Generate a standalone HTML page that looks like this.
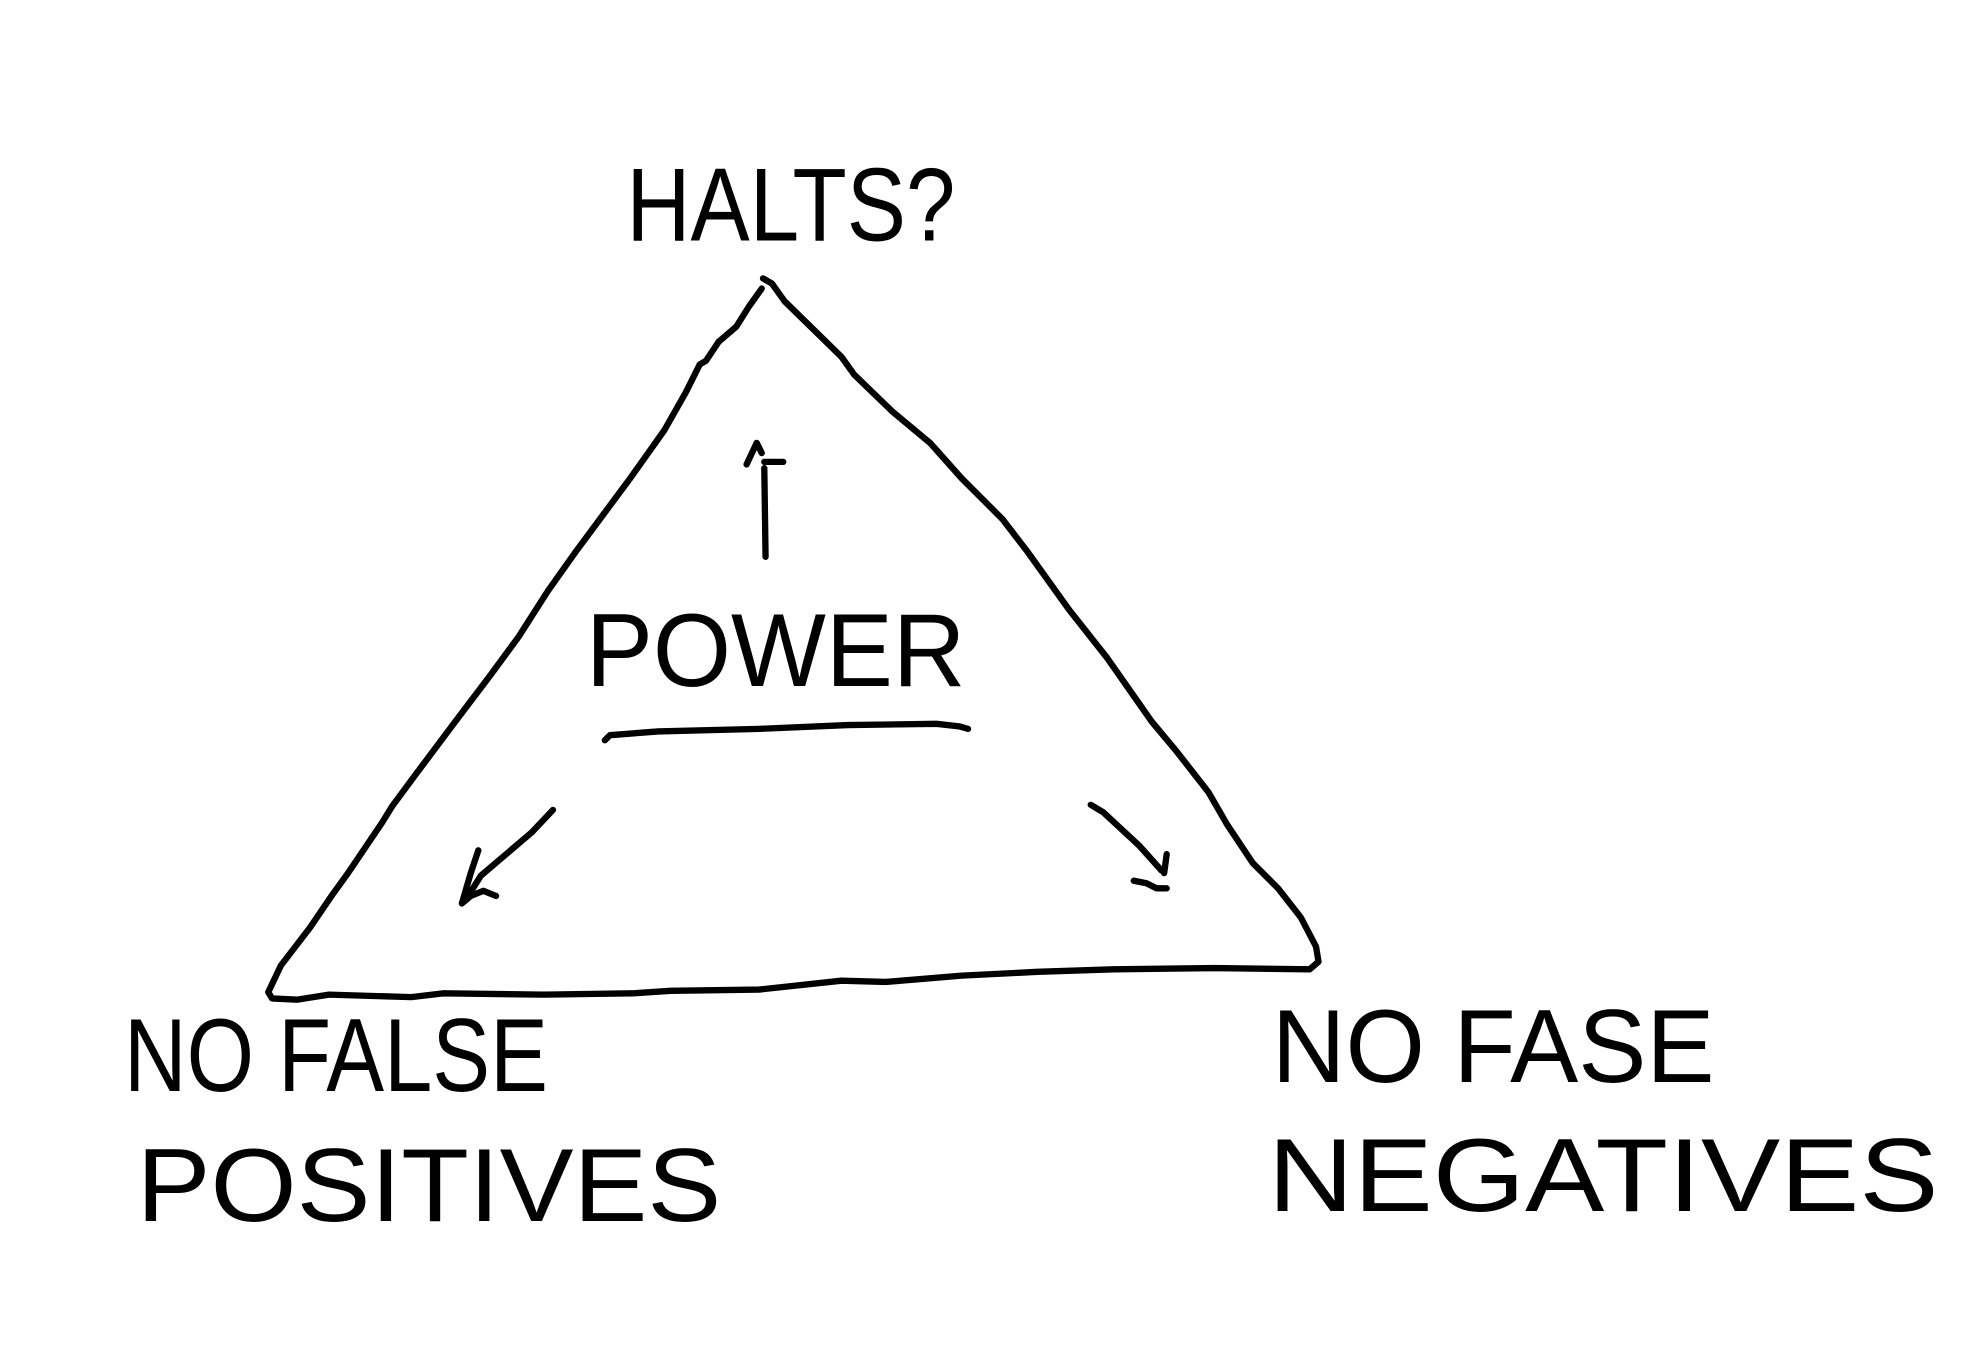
<!DOCTYPE html>
<html><head><style>html,body{margin:0;padding:0;background:#fff}svg{display:block}</style></head>
<body>
<svg width="1974" height="1354" viewBox="0 0 1560 1070" xmlns="http://www.w3.org/2000/svg">
<rect width="1560" height="1070" fill="#fff"/>
<g fill="none" stroke="#000" stroke-width="5" stroke-linecap="round" stroke-linejoin="round">
<path d="M603,220 L610,224 L620,238 L665,282 L675,296 L705,325 L735,350 L760,378 L792,410 L812,436 L845,482 L875,520 L910,570 L930,594 L955,626 L970,652 L990,682 L1010,702 L1028,725 L1040,748 L1042,760 L1035,766 L960,765 L880,766 L820,768 L760,771 L700,776 L665,775 L600,782 L530,783 L500,785 L430,786 L350,785 L325,788 L260,786 L235,790 L215,789 L212,784 L222,763 L245,733 L262,708 L275,690 L302,650 L310,637 L327,614 L360,570 L388,533 L410,503 L433,467 L455,436 L498,378 L525,340 L542,310 L553,288 L558,285 L568,270 L582,258 L592,242 L602,228"/>
<path d="M605,440 L604,370 M590,367 L598,350 L602,358 M604,365 L619,365"/>
<path d="M437,640 L420,658 L380,692 L370,708 M378,672 L372,690 L365,714 L372,708 L382,704 L392,708"/>
<path d="M862,636 L872,642 L900,668 L918,688 M922,675 L920,690 M896,696 L906,698 L914,702 L922,702"/>
<path d="M478,585 L482,581 L520,578 L600,576 L670,573 L740,572 L758,574 L765,576"/>
</g>
<g font-family="'Liberation Sans Narrow','Liberation Sans',sans-serif" font-size="82" fill="#000">
<text x="495" y="190" textLength="260" lengthAdjust="spacingAndGlyphs">HALTS?</text>
<text x="463" y="542" textLength="300" lengthAdjust="spacingAndGlyphs">POWER</text>
<text x="98" y="862" textLength="335" lengthAdjust="spacingAndGlyphs">NO FALSE</text>
<text x="108" y="965" textLength="462" lengthAdjust="spacingAndGlyphs">POSITIVES</text>
<text x="1005" y="855" textLength="350" lengthAdjust="spacingAndGlyphs">NO FASE</text>
<text x="1002" y="957" textLength="530" lengthAdjust="spacingAndGlyphs">NEGATIVES</text>
</g>
</svg>
</body></html>
